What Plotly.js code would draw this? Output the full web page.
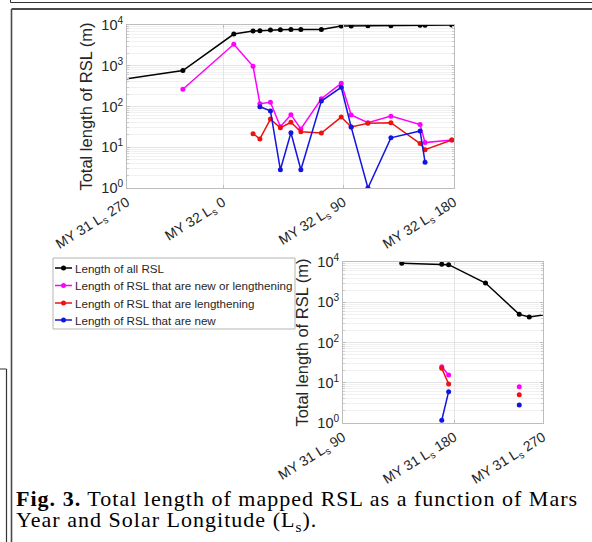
<!DOCTYPE html>
<html>
<head>
<meta charset="utf-8">
<script src="https://cdn.plot.ly/plotly-3.0.1.min.js"></script>
<style>
html,body{margin:0;padding:0;background:#fff;}
#chart{width:592px;height:542px;}
</style>
</head>
<body>
<div id="chart"></div>
<script>
// Time axis: sols counted from MY 31 Ls 0
const sols = [288, 352, 363, 422, 476, 492, 604, 686, 717, 728, 745, 761, 778, 794, 827, 859, 875, 902, 939, 986, 994, 1037];
const allRSL       = [9300, 8800, 8600, 3000, 500, 430, 760, 6000, 7100, 7200, 7550, 7650, 7800, 7800, 7800, 9450, 9450, 9600, 9600, 9800, 9800, 10000];
const newOrLonger  = [null, 25, 15.6, null, 7.9, null, 265, 3370, 970, 117, 127, 32, 63, 28, 155, 370, 62, 40, 58, 36, 13, 15];
const lengthening  = [null, 23, 9.3, null, 5.0, null, null, null, 21.5, 16, 49, 30, 41, 24, 22.4, 55, 31.5, 39, 40, 12.3, 8.7, 15];
const newRSL       = [null, 1.17, 6.0, null, 2.8, null, null, null, null, 99, 78, 2.8, 22.7, 2.8, 136, 296, 31.5, 1.0, 17, 25, 4.3, null];

const seriesNames = ['Length of all RSL', 'Length of RSL that are new or lengthening', 'Length of RSL that are lengthening', 'Length of RSL that are new'];
const seriesData = [allRSL, newOrLonger, lengthening, newRSL];
const seriesColors = ['#000000', '#ff00ff', '#ee1111', '#1515e0'];

// Tick positions (sols) and labels
const topTickVals = [514, 668.6, 862.6, 1040.6];
const topTickText = ['MY 31 L<sub>s</sub> 270', 'MY 32 L<sub>s</sub> 0', 'MY 32 L<sub>s</sub> 90', 'MY 32 L<sub>s</sub> 180'];
const botTickVals = [194, 372, 514];
const botTickText = ['MY 31 L<sub>s</sub> 90', 'MY 31 L<sub>s</sub> 180', 'MY 31 L<sub>s</sub> 270'];
const yTickVals = [1, 10, 100, 1000, 10000];
const yTickText = ['10<sup>0</sup>', '10<sup>1</sup>', '10<sup>2</sup>', '10<sup>3</sup>', '10<sup>4</sup>'];
const yTitle = 'Total length of RSL (m)';
const captionLine1 = '<b>Fig. 3.</b> Total length of mapped RSL as a function of Mars';
const captionLine2 = 'Year and Solar Longitude (L<sub>s</sub>).';

const W = 592, H = 542;
const px = x => x / W;
const py = y => 1 - y / H;
const SANS = 'Liberation Sans, Arial, sans-serif';
const SERIF = 'Liberation Serif, Times New Roman, serif';

const traces = [];
seriesData.forEach((vals, i) => {
  ['x', 'x2'].forEach((xa, k) => {
    traces.push({x: sols, y: vals, type: 'scatter', mode: 'lines+markers', name: seriesNames[i],
      xaxis: xa, yaxis: k ? 'y2' : 'y', line: {color: seriesColors[i], width: 1.5},
      marker: {color: seriesColors[i], size: 5}, connectgaps: false, showlegend: false});
  });
});

const txt = '#262626';
const grid = '#e4e4e4';
function xax(domain, range, tv, tt, anchor) {
  return {domain, range, anchor, tickmode: 'array', tickvals: tv, ticktext: tt, tickangle: -32,
    tickfont: {family: SANS, size: 14, color: txt},
    showgrid: true, gridcolor: grid, gridwidth: 1, zeroline: false,
    showline: true, linecolor: '#bdbdbd', linewidth: 1, mirror: 'ticks',
    ticks: 'inside', ticklen: 3, tickcolor: '#bdbdbd', automargin: false};
}
function yax(domain, anchor) {
  return {domain, anchor, type: 'log', range: [0, 4], tickmode: 'array', tickvals: yTickVals, ticktext: yTickText,
    tickfont: {family: SANS, size: 14.5, color: txt},
    title: {text: yTitle, font: {family: SANS, size: 16.5, color: txt}, standoff: 4},
    showgrid: true, gridcolor: grid, gridwidth: 1, zeroline: false,
    showline: true, linecolor: '#bdbdbd', linewidth: 1, mirror: 'ticks',
    ticks: 'inside', ticklen: 3, tickcolor: '#bdbdbd', automargin: false,
    minor: {dtick: 'D1', showgrid: true, gridcolor: '#f1f1f1', ticks: 'inside', ticklen: 2, tickcolor: '#cccccc'}};
}

const line = (x0, y0, x1, y1, w, c) => ({type: 'line', xref: 'paper', yref: 'paper',
  x0: px(x0), y0: py(y0), x1: px(x1), y1: py(y1), line: {width: w, color: c}});

const shapes = [
  line(10.5, 0, 10.5, 2.5, 1, '#333'),
  line(10.5, 2.5, 592, 2.5, 1.2, '#333'),
  line(11.5, 9, 592, 9, 2.2, '#4a4a4a'),
  line(11.5, 9, 11.5, 542, 1.6, '#4a4a4a'),
  line(0, 369, 6.5, 369, 1, '#333'),
  line(6.5, 369, 6.5, 542, 1.2, '#333'),
  // legend box
  {type: 'rect', xref: 'paper', yref: 'paper', x0: px(53), x1: px(295), y0: py(258), y1: py(329),
    line: {width: 1, color: '#b5b5b5'}, fillcolor: '#ffffff', layer: 'above'}
];
const annotations = [];
const legendRows = [268, 285.5, 303, 320];
seriesNames.forEach((name, i) => {
  const yy = legendRows[i];
  shapes.push(Object.assign(line(55, yy, 72, yy, 1.5, seriesColors[i]), {layer: 'above'}));
  shapes.push({type: 'circle', xref: 'paper', yref: 'paper', layer: 'above',
    x0: px(61), x1: px(66), y0: py(yy + 2.5), y1: py(yy - 2.5), fillcolor: seriesColors[i], line: {width: 0}});
  annotations.push({xref: 'paper', yref: 'paper', x: px(72.5), y: py(yy), xanchor: 'left', yanchor: 'middle',
    showarrow: false, text: name, font: {family: SANS, size: 11.6, color: txt}});
});
annotations.push(
  {xref: 'paper', yref: 'paper', x: px(14), y: py(498), xanchor: 'left', yanchor: 'middle', showarrow: false,
    text: captionLine1, font: {family: SERIF, size: 22, color: '#000'}},
  {xref: 'paper', yref: 'paper', x: px(14), y: py(520.5), xanchor: 'left', yanchor: 'middle', showarrow: false,
    text: captionLine2, font: {family: SERIF, size: 22, color: '#000'}}
);

const layout = {
  width: W, height: H, margin: {l: 0, r: 0, t: 0, b: 0},
  paper_bgcolor: '#fff', plot_bgcolor: '#fff', showlegend: false,
  xaxis: xax([px(127), px(454)], [514, 1040.6], topTickVals, topTickText, 'y'),
  yaxis: yax([py(188), py(25)], 'x'),
  xaxis2: xax([px(343), px(543)], [194, 514], botTickVals, botTickText, 'y2'),
  yaxis2: yax([py(423), py(262)], 'x2'),
  shapes, annotations
};

Plotly.newPlot('chart', traces, layout, {staticPlot: true, displayModeBar: false}).then(gd => {
  // widen caption lines slightly (letter spacing), keeping their left edge fixed
  gd.querySelectorAll('g.annotation text.annotation-text').forEach(t => {
    const s = t.textContent;
    if (s.indexOf('Fig. 3.') === 0 || s.indexOf('Year and') === 0) {
      const bb = t.getBBox();
      t.setAttribute('text-anchor', 'start');
      t.setAttribute('x', bb.x);
      t.style.letterSpacing = '1.02px';
    }
  });
});
</script>
</body>
</html>
